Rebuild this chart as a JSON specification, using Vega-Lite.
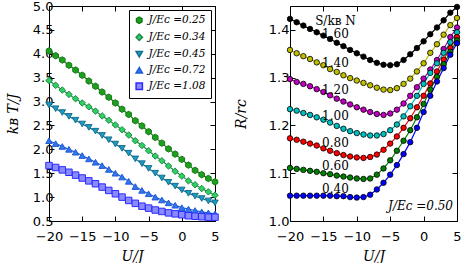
{
  "$schema": "https://vega.github.io/schema/vega-lite/v6.json",
  "background": "white",
  "padding": {"left": 6, "top": 0, "right": 0, "bottom": 0},
  "spacing": 13,
  "resolve": {"scale": {"fill": "independent", "stroke": "independent", "color": "independent", "shape": "independent", "x": "independent", "y": "independent"}, "legend": {"fill": "independent", "stroke": "independent", "color": "independent", "shape": "independent"}},
  "config": {
    "view": {"stroke": null},
    "axis": {"grid": false, "domainColor": "#000", "tickColor": "#000", "tickSize": -5, "labelFont": "DejaVu Sans", "labelFontSize": 13, "labelColor": "#000", "labelOverlap": false, "labelFlush": false, "titleFont": "DejaVu Serif", "titleFontStyle": "italic", "titleFontWeight": "normal", "titleFontSize": 14, "titleColor": "#000", "labelPadding": 4},
    "legend": {"labelFont": "DejaVu Serif", "labelFontStyle": "italic", "labelFontSize": 10.5, "labelColor": "#000"}
  },
  "datasets": {
    "left": [
      {"U":-20,"v":4.06,"s":"0.25"},{"U":-19,"v":3.96,"s":"0.25"},{"U":-18,"v":3.87,"s":"0.25"},{"U":-17,"v":3.76,"s":"0.25"},{"U":-16,"v":3.66,"s":"0.25"},{"U":-15,"v":3.55,"s":"0.25"},{"U":-14,"v":3.43,"s":"0.25"},{"U":-13,"v":3.32,"s":"0.25"},{"U":-12,"v":3.20,"s":"0.25"},{"U":-11,"v":3.09,"s":"0.25"},{"U":-10,"v":2.97,"s":"0.25"},{"U":-9,"v":2.84,"s":"0.25"},{"U":-8,"v":2.73,"s":"0.25"},{"U":-7,"v":2.60,"s":"0.25"},{"U":-6,"v":2.49,"s":"0.25"},{"U":-5,"v":2.37,"s":"0.25"},{"U":-4,"v":2.25,"s":"0.25"},{"U":-3,"v":2.13,"s":"0.25"},{"U":-2,"v":2.01,"s":"0.25"},{"U":-1,"v":1.90,"s":"0.25"},{"U":0,"v":1.79,"s":"0.25"},{"U":1,"v":1.67,"s":"0.25"},{"U":2,"v":1.56,"s":"0.25"},{"U":3,"v":1.47,"s":"0.25"},{"U":4,"v":1.39,"s":"0.25"},{"U":5,"v":1.32,"s":"0.25"},
      {"U":-20,"v":3.44,"s":"0.34"},{"U":-19,"v":3.34,"s":"0.34"},{"U":-18,"v":3.24,"s":"0.34"},{"U":-17,"v":3.15,"s":"0.34"},{"U":-16,"v":3.06,"s":"0.34"},{"U":-15,"v":2.97,"s":"0.34"},{"U":-14,"v":2.89,"s":"0.34"},{"U":-13,"v":2.80,"s":"0.34"},{"U":-12,"v":2.70,"s":"0.34"},{"U":-11,"v":2.61,"s":"0.34"},{"U":-10,"v":2.51,"s":"0.34"},{"U":-9,"v":2.41,"s":"0.34"},{"U":-8,"v":2.30,"s":"0.34"},{"U":-7,"v":2.18,"s":"0.34"},{"U":-6,"v":2.08,"s":"0.34"},{"U":-5,"v":1.97,"s":"0.34"},{"U":-4,"v":1.86,"s":"0.34"},{"U":-3,"v":1.76,"s":"0.34"},{"U":-2,"v":1.65,"s":"0.34"},{"U":-1,"v":1.54,"s":"0.34"},{"U":0,"v":1.44,"s":"0.34"},{"U":1,"v":1.34,"s":"0.34"},{"U":2,"v":1.26,"s":"0.34"},{"U":3,"v":1.18,"s":"0.34"},{"U":4,"v":1.11,"s":"0.34"},{"U":5,"v":1.04,"s":"0.34"},
      {"U":-20,"v":2.93,"s":"0.45"},{"U":-19,"v":2.85,"s":"0.45"},{"U":-18,"v":2.77,"s":"0.45"},{"U":-17,"v":2.69,"s":"0.45"},{"U":-16,"v":2.61,"s":"0.45"},{"U":-15,"v":2.53,"s":"0.45"},{"U":-14,"v":2.46,"s":"0.45"},{"U":-13,"v":2.38,"s":"0.45"},{"U":-12,"v":2.29,"s":"0.45"},{"U":-11,"v":2.20,"s":"0.45"},{"U":-10,"v":2.11,"s":"0.45"},{"U":-9,"v":2.02,"s":"0.45"},{"U":-8,"v":1.92,"s":"0.45"},{"U":-7,"v":1.80,"s":"0.45"},{"U":-6,"v":1.70,"s":"0.45"},{"U":-5,"v":1.60,"s":"0.45"},{"U":-4,"v":1.50,"s":"0.45"},{"U":-3,"v":1.40,"s":"0.45"},{"U":-2,"v":1.31,"s":"0.45"},{"U":-1,"v":1.23,"s":"0.45"},{"U":0,"v":1.15,"s":"0.45"},{"U":1,"v":1.08,"s":"0.45"},{"U":2,"v":1.02,"s":"0.45"},{"U":3,"v":0.97,"s":"0.45"},{"U":4,"v":0.92,"s":"0.45"},{"U":5,"v":0.88,"s":"0.45"},
      {"U":-20,"v":2.18,"s":"0.72"},{"U":-19,"v":2.12,"s":"0.72"},{"U":-18,"v":2.06,"s":"0.72"},{"U":-17,"v":2.00,"s":"0.72"},{"U":-16,"v":1.94,"s":"0.72"},{"U":-15,"v":1.87,"s":"0.72"},{"U":-14,"v":1.80,"s":"0.72"},{"U":-13,"v":1.73,"s":"0.72"},{"U":-12,"v":1.66,"s":"0.72"},{"U":-11,"v":1.58,"s":"0.72"},{"U":-10,"v":1.50,"s":"0.72"},{"U":-9,"v":1.42,"s":"0.72"},{"U":-8,"v":1.33,"s":"0.72"},{"U":-7,"v":1.22,"s":"0.72"},{"U":-6,"v":1.14,"s":"0.72"},{"U":-5,"v":1.07,"s":"0.72"},{"U":-4,"v":1.00,"s":"0.72"},{"U":-3,"v":0.94,"s":"0.72"},{"U":-2,"v":0.88,"s":"0.72"},{"U":-1,"v":0.83,"s":"0.72"},{"U":0,"v":0.78,"s":"0.72"},{"U":1,"v":0.75,"s":"0.72"},{"U":2,"v":0.72,"s":"0.72"},{"U":3,"v":0.69,"s":"0.72"},{"U":4,"v":0.67,"s":"0.72"},{"U":5,"v":0.65,"s":"0.72"},
      {"U":-20,"v":1.66,"s":"1.08"},{"U":-19,"v":1.62,"s":"1.08"},{"U":-18,"v":1.57,"s":"1.08"},{"U":-17,"v":1.52,"s":"1.08"},{"U":-16,"v":1.46,"s":"1.08"},{"U":-15,"v":1.40,"s":"1.08"},{"U":-14,"v":1.34,"s":"1.08"},{"U":-13,"v":1.28,"s":"1.08"},{"U":-12,"v":1.21,"s":"1.08"},{"U":-11,"v":1.14,"s":"1.08"},{"U":-10,"v":1.07,"s":"1.08"},{"U":-9,"v":1.00,"s":"1.08"},{"U":-8,"v":0.93,"s":"1.08"},{"U":-7,"v":0.87,"s":"1.08"},{"U":-6,"v":0.81,"s":"1.08"},{"U":-5,"v":0.77,"s":"1.08"},{"U":-4,"v":0.73,"s":"1.08"},{"U":-3,"v":0.70,"s":"1.08"},{"U":-2,"v":0.67,"s":"1.08"},{"U":-1,"v":0.65,"s":"1.08"},{"U":0,"v":0.63,"s":"1.08"},{"U":1,"v":0.61,"s":"1.08"},{"U":2,"v":0.60,"s":"1.08"},{"U":3,"v":0.59,"s":"1.08"},{"U":4,"v":0.58,"s":"1.08"},{"U":5,"v":0.58,"s":"1.08"}
    ],
    "right": [
      {"U":-20,"v":1.423,"s":"1.60"},{"U":-19,"v":1.416,"s":"1.60"},{"U":-18,"v":1.409,"s":"1.60"},{"U":-17,"v":1.402,"s":"1.60"},{"U":-16,"v":1.395,"s":"1.60"},{"U":-15,"v":1.388,"s":"1.60"},{"U":-14,"v":1.381,"s":"1.60"},{"U":-13,"v":1.373,"s":"1.60"},{"U":-12,"v":1.366,"s":"1.60"},{"U":-11,"v":1.358,"s":"1.60"},{"U":-10,"v":1.351,"s":"1.60"},{"U":-9,"v":1.344,"s":"1.60"},{"U":-8,"v":1.337,"s":"1.60"},{"U":-7,"v":1.331,"s":"1.60"},{"U":-6,"v":1.327,"s":"1.60"},{"U":-5,"v":1.326,"s":"1.60"},{"U":-4,"v":1.328,"s":"1.60"},{"U":-3,"v":1.337,"s":"1.60"},{"U":-2,"v":1.349,"s":"1.60"},{"U":-1,"v":1.362,"s":"1.60"},{"U":0,"v":1.376,"s":"1.60"},{"U":1,"v":1.391,"s":"1.60"},{"U":2,"v":1.405,"s":"1.60"},{"U":3,"v":1.420,"s":"1.60"},{"U":4,"v":1.436,"s":"1.60"},{"U":5,"v":1.448,"s":"1.60"},
      {"U":-20,"v":1.358,"s":"1.40"},{"U":-19,"v":1.351,"s":"1.40"},{"U":-18,"v":1.345,"s":"1.40"},{"U":-17,"v":1.339,"s":"1.40"},{"U":-16,"v":1.332,"s":"1.40"},{"U":-15,"v":1.326,"s":"1.40"},{"U":-14,"v":1.318,"s":"1.40"},{"U":-13,"v":1.312,"s":"1.40"},{"U":-12,"v":1.305,"s":"1.40"},{"U":-11,"v":1.299,"s":"1.40"},{"U":-10,"v":1.294,"s":"1.40"},{"U":-9,"v":1.289,"s":"1.40"},{"U":-8,"v":1.284,"s":"1.40"},{"U":-7,"v":1.279,"s":"1.40"},{"U":-6,"v":1.275,"s":"1.40"},{"U":-5,"v":1.274,"s":"1.40"},{"U":-4,"v":1.278,"s":"1.40"},{"U":-3,"v":1.287,"s":"1.40"},{"U":-2,"v":1.298,"s":"1.40"},{"U":-1,"v":1.313,"s":"1.40"},{"U":0,"v":1.330,"s":"1.40"},{"U":1,"v":1.352,"s":"1.40"},{"U":2,"v":1.370,"s":"1.40"},{"U":3,"v":1.390,"s":"1.40"},{"U":4,"v":1.410,"s":"1.40"},{"U":5,"v":1.425,"s":"1.40"},
      {"U":-20,"v":1.297,"s":"1.20"},{"U":-19,"v":1.291,"s":"1.20"},{"U":-18,"v":1.287,"s":"1.20"},{"U":-17,"v":1.282,"s":"1.20"},{"U":-16,"v":1.276,"s":"1.20"},{"U":-15,"v":1.270,"s":"1.20"},{"U":-14,"v":1.263,"s":"1.20"},{"U":-13,"v":1.256,"s":"1.20"},{"U":-12,"v":1.250,"s":"1.20"},{"U":-11,"v":1.244,"s":"1.20"},{"U":-10,"v":1.238,"s":"1.20"},{"U":-9,"v":1.233,"s":"1.20"},{"U":-8,"v":1.228,"s":"1.20"},{"U":-7,"v":1.224,"s":"1.20"},{"U":-6,"v":1.222,"s":"1.20"},{"U":-5,"v":1.225,"s":"1.20"},{"U":-4,"v":1.233,"s":"1.20"},{"U":-3,"v":1.246,"s":"1.20"},{"U":-2,"v":1.262,"s":"1.20"},{"U":-1,"v":1.280,"s":"1.20"},{"U":0,"v":1.298,"s":"1.20"},{"U":1,"v":1.317,"s":"1.20"},{"U":2,"v":1.337,"s":"1.20"},{"U":3,"v":1.360,"s":"1.20"},{"U":4,"v":1.385,"s":"1.20"},{"U":5,"v":1.405,"s":"1.20"},
      {"U":-20,"v":1.234,"s":"1.00"},{"U":-19,"v":1.231,"s":"1.00"},{"U":-18,"v":1.226,"s":"1.00"},{"U":-17,"v":1.222,"s":"1.00"},{"U":-16,"v":1.217,"s":"1.00"},{"U":-15,"v":1.212,"s":"1.00"},{"U":-14,"v":1.206,"s":"1.00"},{"U":-13,"v":1.199,"s":"1.00"},{"U":-12,"v":1.193,"s":"1.00"},{"U":-11,"v":1.188,"s":"1.00"},{"U":-10,"v":1.184,"s":"1.00"},{"U":-9,"v":1.181,"s":"1.00"},{"U":-8,"v":1.179,"s":"1.00"},{"U":-7,"v":1.179,"s":"1.00"},{"U":-6,"v":1.182,"s":"1.00"},{"U":-5,"v":1.190,"s":"1.00"},{"U":-4,"v":1.202,"s":"1.00"},{"U":-3,"v":1.219,"s":"1.00"},{"U":-2,"v":1.240,"s":"1.00"},{"U":-1,"v":1.262,"s":"1.00"},{"U":0,"v":1.287,"s":"1.00"},{"U":1,"v":1.310,"s":"1.00"},{"U":2,"v":1.330,"s":"1.00"},{"U":3,"v":1.352,"s":"1.00"},{"U":4,"v":1.374,"s":"1.00"},{"U":5,"v":1.395,"s":"1.00"},
      {"U":-20,"v":1.173,"s":"0.80"},{"U":-19,"v":1.170,"s":"0.80"},{"U":-18,"v":1.166,"s":"0.80"},{"U":-17,"v":1.162,"s":"0.80"},{"U":-16,"v":1.158,"s":"0.80"},{"U":-15,"v":1.152,"s":"0.80"},{"U":-14,"v":1.147,"s":"0.80"},{"U":-13,"v":1.142,"s":"0.80"},{"U":-12,"v":1.138,"s":"0.80"},{"U":-11,"v":1.135,"s":"0.80"},{"U":-10,"v":1.133,"s":"0.80"},{"U":-9,"v":1.132,"s":"0.80"},{"U":-8,"v":1.134,"s":"0.80"},{"U":-7,"v":1.139,"s":"0.80"},{"U":-6,"v":1.149,"s":"0.80"},{"U":-5,"v":1.162,"s":"0.80"},{"U":-4,"v":1.177,"s":"0.80"},{"U":-3,"v":1.195,"s":"0.80"},{"U":-2,"v":1.215,"s":"0.80"},{"U":-1,"v":1.238,"s":"0.80"},{"U":0,"v":1.262,"s":"0.80"},{"U":1,"v":1.288,"s":"0.80"},{"U":2,"v":1.313,"s":"0.80"},{"U":3,"v":1.338,"s":"0.80"},{"U":4,"v":1.362,"s":"0.80"},{"U":5,"v":1.385,"s":"0.80"},
      {"U":-20,"v":1.111,"s":"0.60"},{"U":-19,"v":1.109,"s":"0.60"},{"U":-18,"v":1.107,"s":"0.60"},{"U":-17,"v":1.105,"s":"0.60"},{"U":-16,"v":1.103,"s":"0.60"},{"U":-15,"v":1.100,"s":"0.60"},{"U":-14,"v":1.098,"s":"0.60"},{"U":-13,"v":1.095,"s":"0.60"},{"U":-12,"v":1.093,"s":"0.60"},{"U":-11,"v":1.091,"s":"0.60"},{"U":-10,"v":1.089,"s":"0.60"},{"U":-9,"v":1.088,"s":"0.60"},{"U":-8,"v":1.089,"s":"0.60"},{"U":-7,"v":1.097,"s":"0.60"},{"U":-6,"v":1.110,"s":"0.60"},{"U":-5,"v":1.127,"s":"0.60"},{"U":-4,"v":1.147,"s":"0.60"},{"U":-3,"v":1.168,"s":"0.60"},{"U":-2,"v":1.190,"s":"0.60"},{"U":-1,"v":1.217,"s":"0.60"},{"U":0,"v":1.245,"s":"0.60"},{"U":1,"v":1.275,"s":"0.60"},{"U":2,"v":1.302,"s":"0.60"},{"U":3,"v":1.328,"s":"0.60"},{"U":4,"v":1.354,"s":"0.60"},{"U":5,"v":1.378,"s":"0.60"},
      {"U":-20,"v":1.053,"s":"0.40"},{"U":-19,"v":1.053,"s":"0.40"},{"U":-18,"v":1.053,"s":"0.40"},{"U":-17,"v":1.053,"s":"0.40"},{"U":-16,"v":1.053,"s":"0.40"},{"U":-15,"v":1.053,"s":"0.40"},{"U":-14,"v":1.053,"s":"0.40"},{"U":-13,"v":1.052,"s":"0.40"},{"U":-12,"v":1.052,"s":"0.40"},{"U":-11,"v":1.050,"s":"0.40"},{"U":-10,"v":1.049,"s":"0.40"},{"U":-9,"v":1.050,"s":"0.40"},{"U":-8,"v":1.055,"s":"0.40"},{"U":-7,"v":1.066,"s":"0.40"},{"U":-6,"v":1.080,"s":"0.40"},{"U":-5,"v":1.097,"s":"0.40"},{"U":-4,"v":1.117,"s":"0.40"},{"U":-3,"v":1.140,"s":"0.40"},{"U":-2,"v":1.165,"s":"0.40"},{"U":-1,"v":1.195,"s":"0.40"},{"U":0,"v":1.228,"s":"0.40"},{"U":1,"v":1.262,"s":"0.40"},{"U":2,"v":1.292,"s":"0.40"},{"U":3,"v":1.320,"s":"0.40"},{"U":4,"v":1.348,"s":"0.40"},{"U":5,"v":1.372,"s":"0.40"}
    ],
    "labels": [
      {"U":-13.2,"v":1.419,"t":"S/kʙ N","it":"italic"},
      {"U":-13.2,"v":1.391,"t":"1.60","it":"normal"},
      {"U":-13.2,"v":1.331,"t":"1.40","it":"normal"},
      {"U":-13.2,"v":1.275,"t":"1.20","it":"normal"},
      {"U":-13.2,"v":1.219,"t":"1.00","it":"normal"},
      {"U":-13.2,"v":1.164,"t":"0.80","it":"normal"},
      {"U":-13.2,"v":1.115,"t":"0.60","it":"normal"},
      {"U":-13.2,"v":1.067,"t":"0.40","it":"normal"}
    ]
  },
  "hconcat": [
    {
      "width": 166,
      "height": 215,
      "data": {"name": "left"},
      "layer": [
        {
          "mark": {"type": "line", "strokeWidth": 1.2},
          "encoding": {
            "x": {"field": "U", "type": "quantitative", "scale": {"domain": [-20, 5], "nice": false, "zero": false}, "axis": {"values": [-20, -15, -10, -5, 0, 5], "title": "U/J", "labelPadding": 14, "titlePadding": 6}},
            "y": {"field": "v", "type": "quantitative", "scale": {"domain": [0.5, 5], "nice": false, "zero": false}, "axis": {"values": [0.5, 1, 1.5, 2, 2.5, 3, 3.5, 4, 4.5, 5], "format": ".1f", "title": "kʙ T/J", "titlePadding": 12, "labelPadding": 1}},
            "stroke": {"field": "s", "type": "nominal", "scale": {"domain": ["0.25", "0.34", "0.45", "0.72", "1.08"], "range": ["#137a13", "#1b8a48", "#176f8c", "#1f5ad6", "#2a2aff"]}, "legend": {"title": null, "orient": "top-right", "offset": 4, "strokeColor": "#000", "fillColor": "white", "padding": 5, "rowPadding": 4, "symbolSize": 40, "labelExpr": "'J/Eᴄ =' + datum.label"}}
          }
        },
        {
          "mark": {"type": "point", "filled": true, "size": 42, "strokeWidth": 1, "opacity": 1},
          "encoding": {
            "x": {"field": "U", "type": "quantitative", "axis": {"orient": "top", "values": [-20, -15, -10, -5, 0, 5], "labels": false, "title": null}},
            "y": {"field": "v", "type": "quantitative", "axis": {"orient": "right", "values": [0.5, 1, 1.5, 2, 2.5, 3, 3.5, 4, 4.5, 5], "labels": false, "title": null}},
            "fill": {"field": "s", "type": "nominal", "scale": {"domain": ["0.25", "0.34", "0.45", "0.72", "1.08"], "range": ["#1f9f1f", "#30d060", "#1a9cc6", "#3377ee", "#8a8aff"]}, "legend": {"title": null, "orient": "top-right", "offset": 4, "strokeColor": "#000", "fillColor": "white", "padding": 5, "rowPadding": 4, "symbolSize": 40, "labelExpr": "'J/Eᴄ =' + datum.label"}},
            "stroke": {"field": "s", "type": "nominal", "legend": {"title": null, "orient": "top-right", "offset": 4, "strokeColor": "#000", "fillColor": "white", "padding": 5, "rowPadding": 4, "symbolSize": 40, "labelExpr": "'J/Eᴄ =' + datum.label"}},
            "shape": {"field": "s", "type": "nominal", "scale": {"domain": ["0.25", "0.34", "0.45", "0.72", "1.08"], "range": ["M0,-1L0.866,-0.5L0.866,0.5L0,1L-0.866,0.5L-0.866,-0.5Z", "diamond", "triangle-down", "triangle-up", "square"]}, "legend": {"title": null, "orient": "top-right", "offset": 4, "strokeColor": "#000", "fillColor": "white", "padding": 5, "rowPadding": 4, "symbolSize": 40, "labelExpr": "'J/Eᴄ =' + datum.label"}}
          }
        }
      ],
      "resolve": {"axis": {"x": "independent", "y": "independent"}}
    },
    {
      "width": 167,
      "height": 215,
      "layer": [
        {
          "data": {"name": "right"},
          "mark": {"type": "line", "strokeWidth": 1.2},
          "encoding": {
            "x": {"field": "U", "type": "quantitative", "scale": {"domain": [-20, 5], "nice": false, "zero": false}, "axis": {"values": [-20, -15, -10, -5, 0, 5], "title": "U/J", "labelPadding": 14, "titlePadding": 6}},
            "y": {"field": "v", "type": "quantitative", "scale": {"domain": [1.0, 1.45], "nice": false, "zero": false}, "axis": {"values": [1.0, 1.1, 1.2, 1.3, 1.4], "format": ".1f", "title": "R/rᴄ", "titlePadding": 20, "labelPadding": 6}},
            "color": {"field": "s", "type": "nominal", "scale": {"domain": ["1.60", "1.40", "1.20", "1.00", "0.80", "0.60", "0.40"], "range": ["#000000", "#bfbf00", "#bf00bf", "#00bfbf", "#ff0000", "#008000", "#0000ff"]}, "legend": null}
          }
        },
        {
          "data": {"name": "right"},
          "mark": {"type": "point", "filled": true, "size": 30, "stroke": "#000", "strokeWidth": 0.8, "opacity": 1},
          "encoding": {
            "x": {"field": "U", "type": "quantitative", "axis": {"orient": "top", "values": [-20, -15, -10, -5, 0, 5], "labels": false, "title": null}},
            "y": {"field": "v", "type": "quantitative", "axis": {"orient": "right", "values": [1.0, 1.1, 1.2, 1.3, 1.4], "labels": false, "title": null}},
            "fill": {"field": "s", "type": "nominal", "scale": {"domain": ["1.60", "1.40", "1.20", "1.00", "0.80", "0.60", "0.40"], "range": ["#000000", "#bfbf00", "#bf00bf", "#00bfbf", "#ff0000", "#008000", "#0000ff"]}, "legend": null}
          }
        },
        {
          "data": {"name": "labels"},
          "mark": {"type": "text", "font": "DejaVu Serif", "fontSize": 12, "color": "#000", "align": "center", "baseline": "middle"},
          "encoding": {
            "x": {"field": "U", "type": "quantitative", "axis": null},
            "y": {"field": "v", "type": "quantitative", "axis": null},
            "text": {"field": "t"},
            "fontStyle": {"field": "it", "type": "nominal", "scale": null}
          }
        },
        {
          "data": {"values": [{"U": 4.4, "v": 1.032, "t": "J/Eᴄ =0.50"}]},
          "mark": {"type": "text", "font": "DejaVu Serif", "fontStyle": "italic", "fontSize": 12, "color": "#000", "align": "right", "baseline": "middle"},
          "encoding": {
            "x": {"field": "U", "type": "quantitative", "axis": null},
            "y": {"field": "v", "type": "quantitative", "axis": null},
            "text": {"field": "t"}
          }
        }
      ],
      "resolve": {"axis": {"x": "independent", "y": "independent"}}
    }
  ]
}
